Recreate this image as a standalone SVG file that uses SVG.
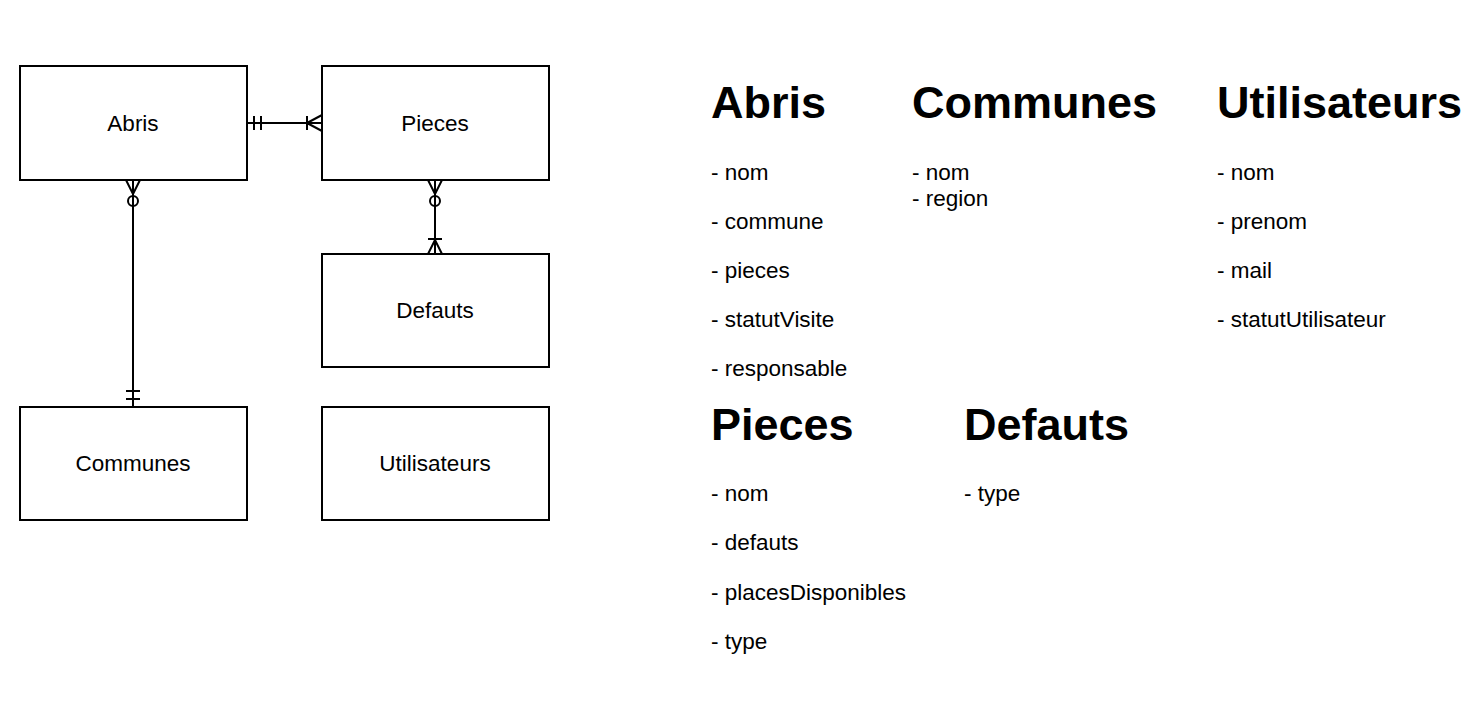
<svg xmlns="http://www.w3.org/2000/svg" width="1477" height="705" viewBox="0 0 1477 705">
<style>
.box{fill:#fff;stroke:#000;stroke-width:2}
.lbl{font-family:"Liberation Sans",Arial,sans-serif;font-size:22.5px;fill:#000;text-anchor:middle}
.ln{fill:none;stroke:#000;stroke-width:2}
.h{font-family:"Liberation Sans",Arial,sans-serif;font-size:45px;font-weight:bold;fill:#000}
.t{font-family:"Liberation Sans",Arial,sans-serif;font-size:22.5px;fill:#000}
</style>
<rect width="1477" height="705" fill="#fff"/>
<g id="connectors">
<path class="ln" d="M247 123H322 M254 116V130 M261 116V130 M307 116V130 M307 123L322 115 M307 123L322 131"/>
<path class="ln" d="M133 180V407 M133 194L126 180 M133 194L140 180 M126 391H140 M126 399H140"/>
<circle class="ln" cx="133" cy="201" r="5" fill="#fff"/>
<path class="ln" d="M435 180V254 M435 194L428 180 M435 194L442 180 M428 239H442 M435 240L428 254 M435 240L442 254"/>
<circle class="ln" cx="435" cy="201" r="5" fill="#fff"/>
</g>
<g id="abris"><rect class="box" x="20" y="66" width="227" height="114"/><text class="lbl" x="133" y="131">Abris</text></g>
<g id="pieces"><rect class="box" x="322" y="66" width="227" height="114"/><text class="lbl" x="435" y="131">Pieces</text></g>
<g id="defauts"><rect class="box" x="322" y="254" width="227" height="113"/><text class="lbl" x="435" y="318">Defauts</text></g>
<g id="communes"><rect class="box" x="20" y="407" width="227" height="113"/><text class="lbl" x="133" y="471">Communes</text></g>
<g id="utilisateurs"><rect class="box" x="322" y="407" width="227" height="113"/><text class="lbl" x="435" y="471">Utilisateurs</text></g>
<g id="doc">
<text class="h" x="711" y="118">Abris</text>
<text class="t" x="711" y="180">- nom</text>
<text class="t" x="711" y="229">- commune</text>
<text class="t" x="711" y="278">- pieces</text>
<text class="t" x="711" y="327">- statutVisite</text>
<text class="t" x="711" y="376">- responsable</text>
<text class="h" x="912" y="118">Communes</text>
<text class="t" x="912" y="180">- nom</text>
<text class="t" x="912" y="206">- region</text>
<text class="h" x="1217" y="118">Utilisateurs</text>
<text class="t" x="1217" y="180">- nom</text>
<text class="t" x="1217" y="229">- prenom</text>
<text class="t" x="1217" y="278">- mail</text>
<text class="t" x="1217" y="327">- statutUtilisateur</text>
<text class="h" x="711" y="440">Pieces</text>
<text class="t" x="711" y="501">- nom</text>
<text class="t" x="711" y="550">- defauts</text>
<text class="t" x="711" y="600">- placesDisponibles</text>
<text class="t" x="711" y="649">- type</text>
<text class="h" x="964" y="440">Defauts</text>
<text class="t" x="964" y="501">- type</text>
</g>
</svg>
